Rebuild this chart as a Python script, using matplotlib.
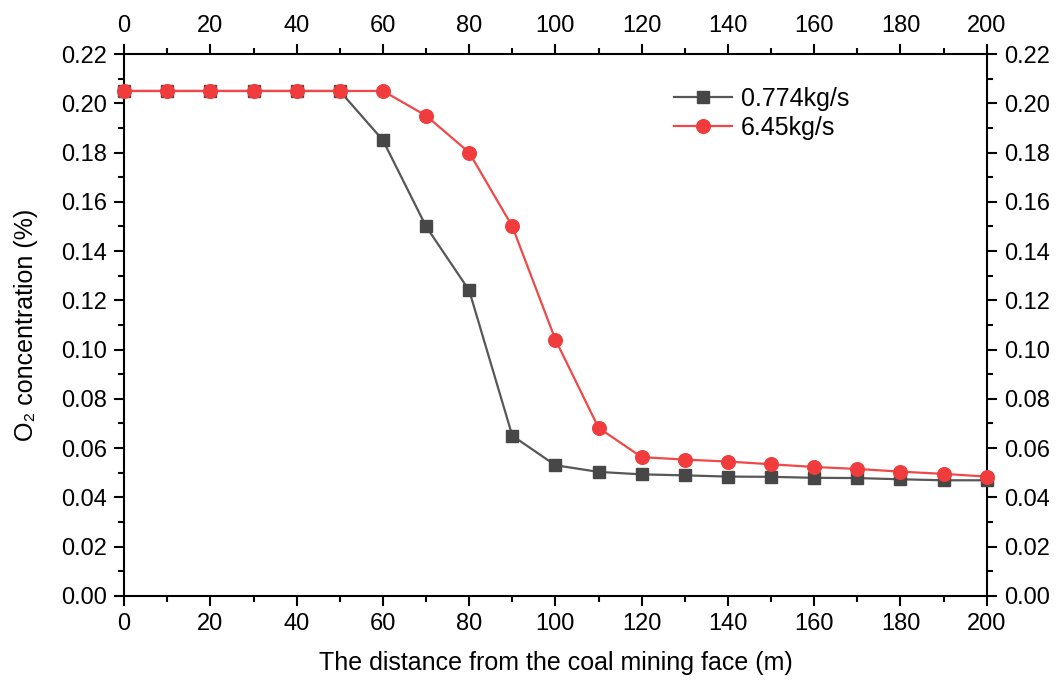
import numpy as np
import matplotlib.pyplot as plt
from matplotlib.ticker import MultipleLocator

plt.rcParams['font.family'] = ['Liberation Sans', 'DejaVu Sans']

# distance from the coal mining face (m)
distance = [0, 10, 20, 30, 40, 50, 60, 70, 80, 90, 100,
            110, 120, 130, 140, 150, 160, 170, 180, 190, 200]
o2_low = [0.205, 0.205, 0.205, 0.205, 0.205, 0.205, 0.185, 0.150, 0.124, 0.065, 0.053,
          0.0503, 0.0493, 0.0489, 0.0484, 0.0483, 0.0479, 0.0478, 0.0473, 0.0469, 0.0469]
o2_high = [0.205, 0.205, 0.205, 0.205, 0.205, 0.205, 0.205, 0.195, 0.180, 0.150, 0.104,
           0.0682, 0.0563, 0.0553, 0.0545, 0.0534, 0.0523, 0.0515, 0.0504, 0.0495, 0.0484]
labels = ["0.774kg/s", "6.45kg/s"]

fig, ax = plt.subplots(figsize=(10.61, 6.84), dpi=100)
fig.subplots_adjust(left=0.117, right=0.930, bottom=0.129, top=0.921)

ax.plot(distance, o2_low, color="#575757", lw=1.6, marker="s", ms=8.5,
        mfc="#474747", mec="#474747", label=labels[0], clip_on=False, zorder=3)
ax.plot(distance, o2_high, color="#f04848", lw=1.6, marker="o", ms=9.8,
        mfc="#f03c3c", mec="#f03c3c", label=labels[1], clip_on=False, zorder=4)

ax.set_xlim(0, 200)
ax.set_ylim(0, 0.22)
ax.xaxis.set_major_locator(MultipleLocator(20))
ax.xaxis.set_minor_locator(MultipleLocator(10))
ax.yaxis.set_major_locator(MultipleLocator(0.02))
ax.yaxis.set_minor_locator(MultipleLocator(0.01))
ax.yaxis.set_major_formatter(plt.FormatStrFormatter("%.2f"))

ax.tick_params(which="both", direction="out", top=True, right=True,
               labeltop=True, labelright=True, labelsize=17, width=1.5, pad=5)
ax.tick_params(which="major", length=7.2)
ax.tick_params(which="minor", length=4.3)
for s in ax.spines.values():
    s.set_linewidth(1.5)

ax.set_xlabel("The distance from the coal mining face (m)", fontsize=18, labelpad=12)
ax.set_ylabel("O₂ concentration (%)", fontsize=18, labelpad=17)

ax.legend(loc="upper left", bbox_to_anchor=(0.638, 0.94), frameon=False,
          fontsize=18, handlelength=2.3, handletextpad=0.35, labelspacing=0.2,
          borderpad=0, borderaxespad=0)

fig.savefig("out.png", dpi=100, facecolor="white")
